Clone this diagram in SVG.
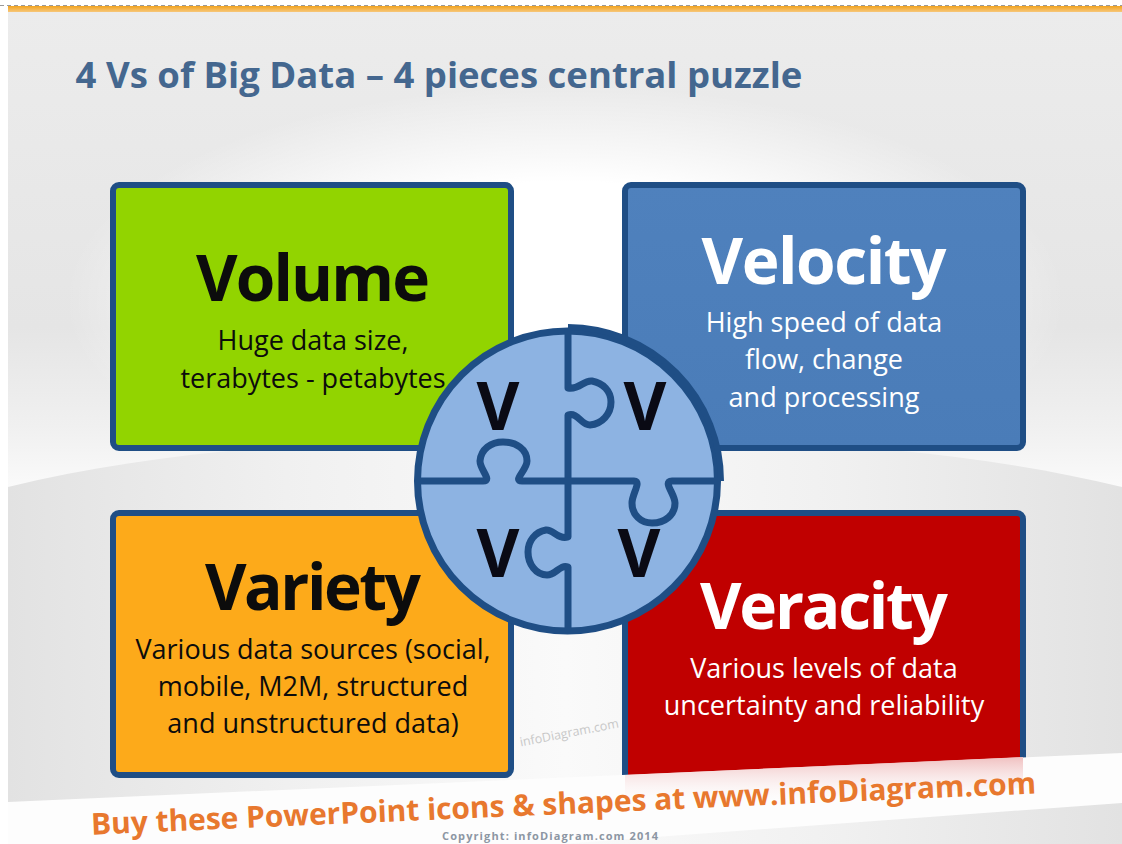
<svg xmlns="http://www.w3.org/2000/svg" width="1122" height="844" viewBox="0 0 1122 844">
<style>
text{font-family:"Open Sans","Noto Sans",sans-serif;text-anchor:middle}
.box{stroke:#1f4e85;stroke-width:6}
.h{font-size:64px;font-weight:700}
.s{font-size:27px}
.k{fill:#0c0c0c}
.w{fill:#fff}
.v{font-size:66px;font-weight:700;fill:#0a0a14}
.pz{fill:none;stroke:#1f4e85;stroke-width:7;stroke-linejoin:round;stroke-linecap:butt}
</style>
<defs>
<linearGradient id="bg" x1="0" y1="0" x2="0" y2="1"><stop offset="0" stop-color="#ececec"/><stop offset=".38" stop-color="#e5e5e5"/><stop offset=".5" stop-color="#f0f0f0"/><stop offset=".6" stop-color="#fefefe"/><stop offset="1" stop-color="#fff"/></linearGradient>
<radialGradient id="gl"><stop offset="0" stop-color="#fff"/><stop offset=".55" stop-color="#fff"/><stop offset="1" stop-color="#fff" stop-opacity="0"/></radialGradient>
<linearGradient id="low" x1="0" y1="0" x2="1" y2="0"><stop offset="0" stop-color="#e2e2e2"/><stop offset=".25" stop-color="#f0f0f0"/><stop offset=".5" stop-color="#fafafa"/><stop offset=".75" stop-color="#f0f0f0"/><stop offset="1" stop-color="#e2e2e2"/></linearGradient>
<linearGradient id="bar" x1="0" y1="0" x2="0" y2="1"><stop offset="0" stop-color="#f2a31f"/><stop offset="1" stop-color="#f7c77a"/></linearGradient>
<linearGradient id="blue" x1="0" y1="0" x2="0" y2="1"><stop offset="0" stop-color="#4f81bd"/><stop offset="1" stop-color="#4a7cb8"/></linearGradient>
<linearGradient id="pink" x1="0" y1="0" x2="0" y2="1"><stop offset="0" stop-color="#f0c0c0"/><stop offset="1" stop-color="#fff" stop-opacity="0"/></linearGradient>
</defs>
<rect width="1122" height="844" fill="#fff"/>
<rect x="8" y="10" width="1114" height="834" fill="url(#bg)"/>
<ellipse cx="565" cy="300" rx="500" ry="215" fill="url(#gl)"/>
<path d="M8 487C180 445 370 438 565 438C760 438 950 445 1122 487V844H8Z" fill="url(#low)"/>
<line x1="0" y1="5.5" x2="1122" y2="5.5" stroke="#9a9a9a" stroke-width="1" stroke-dasharray="4 3"/>
<rect x="8" y="6" width="1114" height="6" fill="url(#bar)"/>
<text x="439" y="88" style="font-size:36.5px;font-weight:700;fill:#44678f">4 Vs of Big Data – 4 pieces central puzzle</text>
<text x="570" y="737" transform="rotate(-11 570 737)" style="font-size:12.5px;fill:#c8c8c8">infoDiagram.com</text>
<g id="volume"><rect class="box" x="113" y="185" width="398" height="263" rx="6" fill="#92d400"/>
<text class="h k" x="313" y="301" textLength="234">Volume</text><text class="s k" x="313" y="350">Huge data size,</text><text class="s k" x="313" y="388">terabytes - petabytes</text></g>
<g id="velocity"><rect class="box" x="625" y="185" width="398" height="263" rx="6" fill="url(#blue)"/>
<text class="h w" x="824" y="284" textLength="245">Velocity</text><text class="s w" x="824" y="332">High speed of data</text><text class="s w" x="824" y="369">flow, change</text><text class="s w" x="824" y="407">and processing</text></g>
<g id="variety"><rect class="box" x="113" y="513" width="398" height="262" rx="6" fill="#fdaa1a"/>
<text class="h k" x="313" y="610" textLength="216">Variety</text><text class="s k" x="313" y="659">Various data sources (social,</text><text class="s k" x="313" y="696">mobile, M2M, structured</text><text class="s k" x="313" y="733">and unstructured data)</text></g>
<g id="veracity"><rect class="box" x="625" y="513" width="398" height="268" rx="6" fill="#c00000"/>
<text class="h w" x="824" y="629" textLength="248">Veracity</text><text class="s w" x="824" y="678">Various levels of data</text><text class="s w" x="824" y="715">uncertainty and reliability</text></g>
<path d="M8 802L1122 753V803L560 844H8Z" fill="#fdfdfd"/>
<path d="M625 775L1023 757V788L625 806Z" fill="url(#pink)"/>
<text x="564" y="814" transform="rotate(-2.5 564 814)" textLength="946" style="font-size:30px;font-weight:700;fill:#e8782e">Buy these PowerPoint icons &amp; shapes at www.infoDiagram.com</text>
<text x="550" y="840" textLength="216" style="font-size:11px;font-weight:700;fill:#8c96a3">Copyright: infoDiagram.com 2014</text>
<g id="puzzle">
<circle cx="567.5" cy="481" r="150" fill="#8db3e2" stroke="#1f4e85" stroke-width="7"/>
<path d="M568 327A154 154 0 0 1 721 481" fill="none" stroke="#1f4e85" stroke-width="6"/>
<g id="connectors">
<path class="pz" d="M568 330V388C580 390 583 380 592 381C603 383 611 391 611 402C611 414 602 424 590 425C581 425 578 412 568 415V537C558 540 553 529 546 530C535 532 528 541 528 552C528 564 536 575 547 575C556 575 560 564 568 567V630"/>
<path class="pz" d="M420 481H483C493 481 480 470 480 461C481 449 491 442 503 442C516 442 527 449 527 461C527 470 512 481 522 481H634C642 481 632 494 632 503C632 515 641 523 652 523C665 523 675 515 675 503C675 494 662 481 672 481H718"/>
</g>
<text class="v" x="498" y="430">V</text><text class="v" x="645" y="430">V</text>
<text class="v" x="498" y="577">V</text><text class="v" x="639" y="577">V</text>
</g>
</svg>
